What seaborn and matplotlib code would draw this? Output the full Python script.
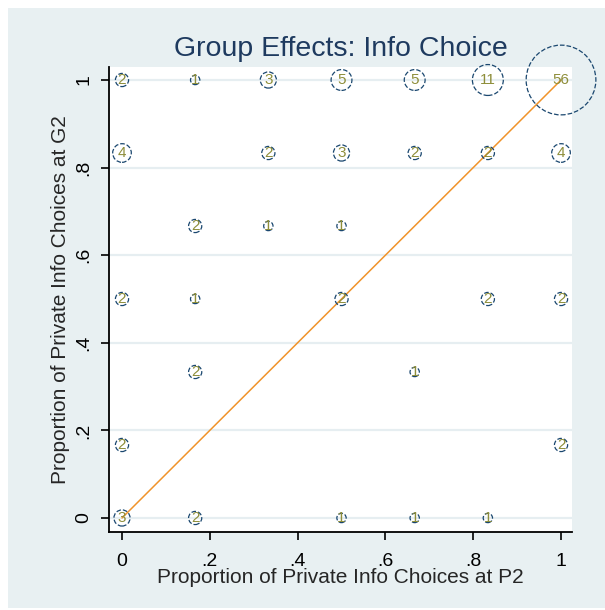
import numpy as np
import pandas as pd
import matplotlib
matplotlib.use("Agg")
import matplotlib.pyplot as plt
from matplotlib.patches import Rectangle
import seaborn as sns

# share of private info choices (sixths) and number of groups at each cell
p2_share = [0, 1/6, 2/6, 3/6, 4/6, 5/6, 1,
            0, 2/6, 3/6, 4/6, 5/6, 1,
            1/6, 2/6, 3/6,
            0, 1/6, 3/6, 5/6, 1,
            1/6, 4/6,
            0, 1,
            0, 1/6, 3/6, 4/6, 5/6]
g2_share = [1, 1, 1, 1, 1, 1, 1,
            5/6, 5/6, 5/6, 5/6, 5/6, 5/6,
            4/6, 4/6, 4/6,
            3/6, 3/6, 3/6, 3/6, 3/6,
            2/6, 2/6,
            1/6, 1/6,
            0, 0, 0, 0, 0]
n_groups = [2, 1, 3, 5, 5, 11, 56,
            4, 2, 3, 2, 2, 4,
            2, 1, 1,
            2, 1, 2, 2, 2,
            2, 1,
            2, 2,
            3, 2, 1, 1, 1]

tick_vals = [0, 0.2, 0.4, 0.6, 0.8, 1]
tick_labels = ["0", ".2", ".4", ".6", ".8", "1"]

df = pd.DataFrame({"p2": p2_share, "g2": g2_share, "n": n_groups})

sns.set_style("white")
plt.rcParams["font.family"] = ["Liberation Sans", "DejaVu Sans"]

bg = "#e8f0f2"
navy = "#1a476f"

fig = plt.figure(figsize=(6.05, 6.1), dpi=100)
fig.patch.set_facecolor("white")
fig.patches.append(Rectangle((8 / 605, 0.003), 1, 1 - 8 / 610 - 0.003,
                             transform=fig.transFigure, facecolor=bg,
                             edgecolor="none", zorder=-10))
ax = fig.add_axes([109 / 605, 78 / 610, 463 / 605, 465 / 610])
ax.set_facecolor("white")

for t in tick_vals:
    ax.axhline(t, color="#e6eef1", lw=1.6, zorder=0)

sns.scatterplot(data=df, x="p2", y="g2", size="n", sizes=(45, 45 * 56),
                size_norm=(1, 56), facecolor="none", edgecolor=navy,
                linewidth=0.9, linestyle="--", legend=False, ax=ax, zorder=3,
                clip_on=False)

for x, y, n in zip(p2_share, g2_share, n_groups):
    ax.text(x, y, str(n), ha="center", va="center", color="#8e8e3a",
            fontsize=11, zorder=4)

sns.lineplot(x=[0, 1], y=[0, 1], color="#f0932a", lw=1.1, ax=ax, zorder=2)

ax.set_xlim(-0.0296, 1.025)
ax.set_ylim(-0.032, 1.0297)
ax.set_xticks(tick_vals)
ax.set_xticklabels(tick_labels, fontsize=14)
ax.set_yticks(tick_vals)
ax.set_yticklabels(tick_labels, fontsize=14, rotation=90, va="center")
ax.tick_params(axis="both", direction="out", length=6, width=1.2,
               colors="black", bottom=True, left=True)
ax.tick_params(axis="x", pad=9)
ax.tick_params(axis="y", pad=6)

for side in ["top", "right"]:
    ax.spines[side].set_visible(False)
for side in ["left", "bottom"]:
    ax.spines[side].set_color("black")
    ax.spines[side].set_linewidth(1.3)

ax.set_xlabel("Proportion of Private Info Choices at P2", fontsize=15,
              labelpad=-1)
ax.set_ylabel("Proportion of Private Info Choices at G2", fontsize=15,
              labelpad=4)
ax.set_title("Group Effects: Info Choice", fontsize=20.5, color="#1e3a5f",
             pad=8)

plt.savefig("out.png", dpi=100)
